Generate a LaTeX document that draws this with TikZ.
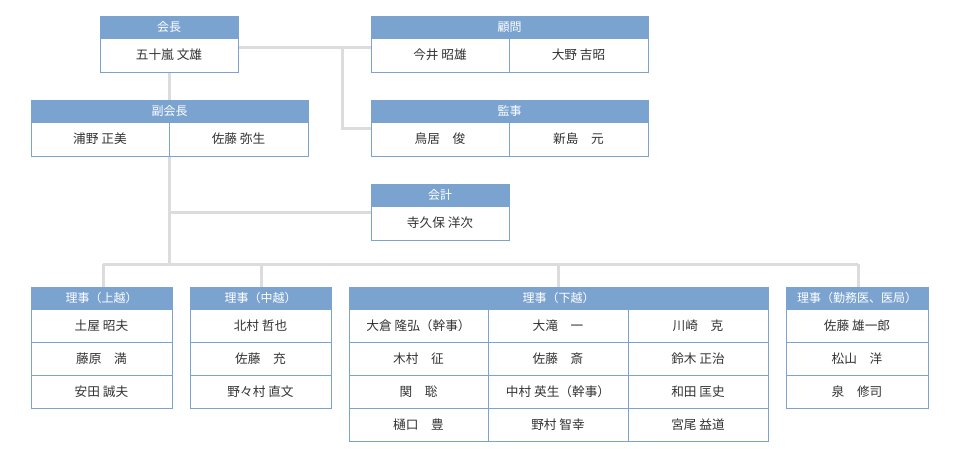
\documentclass[tikz,border=0pt]{standalone}
\usepackage{fontspec}
\setmainfont{Noto Sans CJK JP}
\begin{document}
\begin{tikzpicture}[x=0.75pt,y=-0.75pt,
  hd/.style={draw=hb,fill=hb,text=white,inner sep=0pt,font=\fontsize{9}{10}\selectfont,minimum height=16.5pt},
  cell/.style={draw=hb,fill=white,text=tx,inner sep=0pt,font=\fontsize{9.5}{11}\selectfont,minimum height=24.75pt},
  conn/.style={draw=ln,line width=2.25pt}]
\definecolor{hb}{HTML}{7BA3D0}
\definecolor{tx}{HTML}{333333}
\definecolor{ln}{HTML}{DCDCDC}
\useasboundingbox (0,0) rectangle (960,455);
% connectors
\coordinate (j1) at (238,47);
\coordinate (j2) at (342,47);
\coordinate (j3) at (342,128);
\coordinate (j4) at (169,264);
\coordinate (j5) at (169,212);
\coordinate (b1) at (103,264);
\coordinate (b2) at (261,264);
\coordinate (b3) at (558,264);
\coordinate (b4) at (858,264);
\coordinate (t1) at (103,287);
\coordinate (t2) at (261,287);
\coordinate (t3) at (558,287);
\coordinate (t4) at (858,287);
\coordinate (k1) at (371,47);
\coordinate (k2) at (371,128);
\coordinate (k3) at (371,212);
\coordinate (f1) at (169,72);
\coordinate (f2) at (169,100);
\coordinate (f3) at (169,156);
\draw[conn] (f1) -- (f2);
\draw[conn] (j1) -- (k1);
\draw[conn] (j2) -- (j3) -- (k2);
\draw[conn] (f3) -- (j4);
\draw[conn] (j5) -- (k3);
\draw[conn] (b1) -- (b4);
\draw[conn] (b1) -- (t1); \draw[conn] (b2) -- (t2); \draw[conn] (b3) -- (t3); \draw[conn] (b4) -- (t4);
% 会長
\node[hd,minimum width=103.5pt] (kh) at (169,27) {会長};
\node[cell,minimum width=103.5pt,minimum height=25.5pt] (kb) at (169,55) {五十嵐 文雄};
% 顧問
\node[hd,minimum width=207.75pt] (qh) at (509.5,27) {顧問};
\node[cell,minimum width=103.5pt,minimum height=25.5pt] (q1) at (440,55) {今井 昭雄};
\node[cell,minimum width=104.25pt,minimum height=25.5pt] (q2) at (578.5,55) {大野 吉昭};
% 副会長
\node[hd,minimum width=207.75pt] (fh) at (169.5,111) {副会長};
\node[cell,minimum width=103.5pt,minimum height=25.5pt] (fb1) at (100,139) {浦野 正美};
\node[cell,minimum width=104.25pt,minimum height=25.5pt] (fb2) at (238.5,139) {佐藤 弥生};
% 監事
\node[hd,minimum width=207.75pt] (mh) at (509.5,111) {監事};
\node[cell,minimum width=103.5pt,minimum height=25.5pt] (m1) at (440,139) {鳥居　俊};
\node[cell,minimum width=104.25pt,minimum height=25.5pt] (m2) at (578.5,139) {新島　元};
% 会計
\node[hd,minimum width=103.5pt] (ah) at (440,195) {会計};
\node[cell,minimum width=103.5pt,minimum height=25.5pt] (ab) at (440,223) {寺久保 洋次};
% 上越
\node[hd,minimum width=105.75pt] (jh) at (101.5,298) {理事（上越）};
\node[cell,minimum width=105.75pt] (j1c) at (101.5,325.5) {土屋 昭夫};
\node[cell,minimum width=105.75pt] (j2c) at (101.5,358.5) {藤原　満};
\node[cell,minimum width=105.75pt] (j3c) at (101.5,391.5) {安田 誠夫};
% 中越
\node[hd,minimum width=105.75pt] (ch) at (260.5,298) {理事（中越）};
\node[cell,minimum width=105.75pt] (c1) at (260.5,325.5) {北村 哲也};
\node[cell,minimum width=105.75pt] (c2) at (260.5,358.5) {佐藤　充};
\node[cell,minimum width=105.75pt] (c3) at (260.5,391.5) {野々村 直文};
% 下越
\node[hd,minimum width=314.25pt] (sh) at (558.5,298) {理事（下越）};
\node[cell,minimum width=104.25pt] (s11) at (418.5,325.5) {大倉 隆弘（幹事）};
\node[cell,minimum width=105pt] (s12) at (558,325.5) {大滝　一};
\node[cell,minimum width=105pt] (s13) at (698,325.5) {川崎　克};
\node[cell,minimum width=104.25pt] (s21) at (418.5,358.5) {木村　征};
\node[cell,minimum width=105pt] (s22) at (558,358.5) {佐藤　斎};
\node[cell,minimum width=105pt] (s23) at (698,358.5) {鈴木 正治};
\node[cell,minimum width=104.25pt] (s31) at (418.5,391.5) {関　聡};
\node[cell,minimum width=105pt] (s32) at (558,391.5) {中村 英生（幹事）};
\node[cell,minimum width=105pt] (s33) at (698,391.5) {和田 匡史};
\node[cell,minimum width=104.25pt] (s41) at (418.5,424.5) {樋口　豊};
\node[cell,minimum width=105pt] (s42) at (558,424.5) {野村 智幸};
\node[cell,minimum width=105pt] (s43) at (698,424.5) {宮尾 益道};
% 勤務医
\node[hd,minimum width=106.5pt] (ih) at (857,298) {理事（勤務医、医局）};
\node[cell,minimum width=106.5pt] (i1) at (857,325.5) {佐藤 雄一郎};
\node[cell,minimum width=106.5pt] (i2) at (857,358.5) {松山　洋};
\node[cell,minimum width=106.5pt] (i3) at (857,391.5) {泉　修司};
\end{tikzpicture}
\end{document}
